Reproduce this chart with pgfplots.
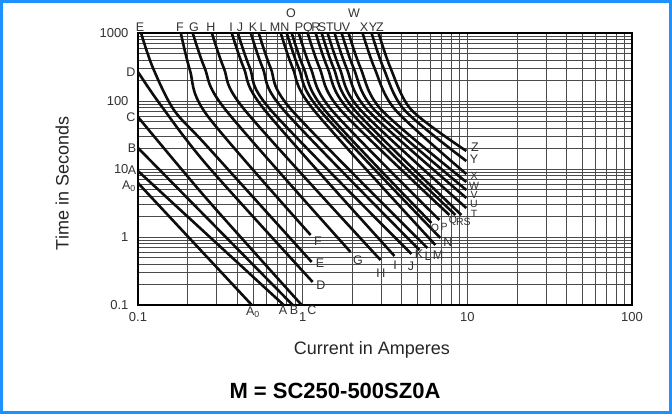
\documentclass[border=0pt]{standalone}
\usepackage{fontspec}
\setmainfont{Liberation Sans}
\usepackage{pgfplots}
\pgfplotsset{compat=1.18}
\definecolor{frameblue}{RGB}{30,144,255}
\definecolor{gridgray}{RGB}{75,75,75}
\newcommand{\lab}{\fontsize{12.5}{14}\selectfont}
\newcommand{\slab}{\fontsize{10.5}{12}\selectfont}
\begin{document}
\begin{tikzpicture}
\useasboundingbox (0,0) rectangle (672pt,414pt);
\fill[white] (0,0) rectangle (672pt,414pt);
\begin{axis}[
  at={(138pt,109pt)}, anchor=south west,
  scale only axis, width=494pt, height=272pt,
  xmode=log, ymode=log,
  xmin=0.1, xmax=100, ymin=0.1, ymax=1000,
  xtick={0.1,1,10,100}, xticklabels={0.1,1,10,100},
  ytick={0.1,1,10,100,1000}, yticklabels={0.1,1,10,100,1000},
  minor xtick={0.2,0.3,0.4,0.5,0.6,0.7,0.8,0.9,2,3,4,5,6,7,8,9,20,30,40,50,60,70,80,90},
  minor ytick={0.2,0.3,0.4,0.5,0.6,0.7,0.8,0.9,2,3,4,5,6,7,8,9,20,30,40,50,60,70,80,90,200,300,400,500,600,700,800,900},
  grid=both,
  major grid style={gridgray, line width=0.8pt},
  minor grid style={gridgray, line width=0.7pt},
  major tick length=0pt, minor tick length=0pt,
  axis line style={black, line width=1.6pt},
  ticklabel style={font=\fontsize{13}{15}\selectfont, text=black!80},
  xticklabel style={yshift=-4pt},
  yticklabel style={xshift=-6pt},
  curve/.style={black!95, line width=2.6pt, smooth, no marks},
]
% left-edge curves
\addplot[curve] coordinates {(0.1,6.22) (0.491,0.1)};
\addplot[curve] coordinates {(0.1,9.35) (0.767,0.1)};
\addplot[curve] coordinates {(0.1,20.4) (0.870,0.1)};
\addplot[curve] coordinates {(0.1,58.2) (0.2619,3.62) (0.986,0.1)};
\addplot[curve] coordinates {(0.1,267) (0.1359,90.3) (0.2619,11.45) (1.150,0.218)};
% top curves E..Z
\addplot[curve] coordinates {(0.1043,1000) (0.1233,306) (0.1653,73.7) (0.2619,21.8) (1.134,0.429)};
\addplot[curve] coordinates {(0.182,1000) (0.2066,286) (0.2619,62.3) (1.118,1.07)};
\addplot[curve] coordinates {(0.215,1000) (0.254,306) (0.341,73.7) (1.954,0.601)};
\addplot[curve] coordinates {(0.281,1000) (0.332,306) (0.445,73.7) (2.970,0.459)};
\addplot[curve] coordinates {(0.371,1000) (0.439,306) (0.588,73.7) (3.611,0.526)};
\addplot[curve] coordinates {(0.404,1000) (0.478,306) (0.640,73.7) (4.577,0.562)};
\addplot[curve] coordinates {(0.484,1000) (0.572,306) (0.767,73.7) (5.118,0.644)};
\addplot[curve] coordinates {(0.541,1000) (0.639,306) (0.857,73.7) (5.722,0.689)};
\addplot[curve] coordinates {(0.736,1000) (0.870,306) (1.167,73.7) (6.40,0.762)};
\addplot[curve] coordinates {(0.800,1000) (0.946,306) (1.268,73.7) (6.862,0.966)};
\addplot[curve] coordinates {(0.858,1000) (1.014,306) (1.360,73.7) (6.05,1.607)};
\addplot[curve] coordinates {(0.946,1000) (1.118,306) (1.499,73.7) (6.77,1.778)};
\addplot[curve] coordinates {(1.072,1000) (1.267,306) (1.699,73.7) (7.78,2.11)};
\addplot[curve] coordinates {(1.199,1000) (1.417,306) (1.900,73.7) (8.46,2.11)};
\addplot[curve] coordinates {(1.304,1000) (1.541,306) (2.067,73.7) (9.20,2.11)};
\addplot[curve] coordinates {(1.417,1000) (1.675,306) (2.246,73.7) (9.86,2.67)};
\addplot[curve] coordinates {(1.563,1000) (1.847,306) (2.477,73.7) (9.86,3.75)};
\addplot[curve] coordinates {(1.724,1000) (2.038,306) (2.733,73.7) (9.86,4.91)};
\addplot[curve] coordinates {(1.900,1000) (2.246,306) (3.012,73.7) (9.86,6.44)};
\addplot[curve] coordinates {(2.31,1000) (2.730,306) (3.661,73.7) (9.86,8.44)};
\addplot[curve] coordinates {(2.619,1000) (3.096,306) (4.151,73.7) (9.86,13.1)};
\addplot[curve] coordinates {(2.89,1000) (3.416,306) (4.581,73.7) (9.86,18.4)};
\end{axis}
% curve letters
\begin{scope}[every node/.style={font=\lab, text=black!80, anchor=base, inner sep=0pt}]
% top
\foreach \l/\x in {E/140,F/180,G/194,H/211,I/231,J/240,K/253,L/263,M/275,N/285,P/299,Q/308,R/316,S/322,T/330,U/338,V/346,X/364,Y/373,Z/380}
  \node at (\x pt,382.5pt) {\l};
\node at (291pt,396pt) {O};
\node at (354pt,396pt) {W};
% left
\node at (131pt,337.5pt) {D};
\node at (131pt,292.5pt) {C};
\node at (132pt,261.5pt) {B};
\node at (132pt,239.5pt) {A};
\node at (129pt,224.5pt) {A\textsubscript{0}};
% bottom
\node at (253pt,98pt) {A\textsubscript{0}};
\node at (283pt,99.5pt) {A};
\node at (294pt,99.5pt) {B};
\node at (312pt,99.5pt) {C};
% right ends
\foreach \l/\x/\y in {D/321/124.5,E/320/146.5,F/318/168.5,G/358/149.5,H/381/136.5,I/395/144.5,J/411/143.5,K/419/155.5,L/428/153.5,M/438/154.5,N/448/167.5,Y/474/250.5,Z/475/262.5}
  \node at (\x pt,\y pt) {\l};
\foreach \l/\x/\y in {O/435/182,P/444/183,Q/453/190,R/460/188,S/467/188,T/474/196,U/474/206.5,V/474/215.5,W/474/224.5,X/474/234}
  \node[font=\slab] at (\x pt,\y pt) {\l};
\end{scope}
% axis titles
\node[anchor=base, font=\fontsize{18}{20}\selectfont, text=black!85] at (372pt,59pt) {Current in Amperes};
\node[anchor=base, rotate=90, font=\fontsize{18}{20}\selectfont, text=black!85] at (68.5pt,230.5pt) {Time in Seconds};
\node[anchor=base, font=\fontsize{22}{24}\selectfont\bfseries] at (335pt,15pt) {M = SC250-500SZ0A};
% frame
\draw[frameblue, line width=3pt] (1.5pt,1.5pt) rectangle (670.5pt,412.5pt);
\end{tikzpicture}
\end{document}
